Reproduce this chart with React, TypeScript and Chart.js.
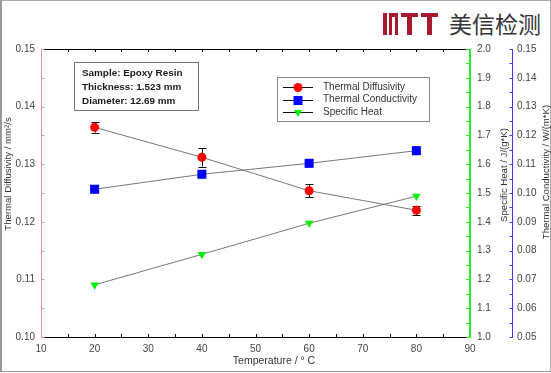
import React, { useEffect, useRef } from "react";
import { Chart, registerables } from "chart.js";

Chart.register(...registerables);

// ---- data ----
const temperatures = [20, 40, 60, 80];
const diffusivity = [0.1364, 0.1312, 0.1254, 0.122];
const diffusivityErr = [0.0009, 0.0016, 0.0011, 0.0008];
const conductivity = [0.1013, 0.1065, 0.1103, 0.1147];
const specificHeat = [1.181, 1.287, 1.395, 1.489];

const seriesLabels = ["Thermal Diffusivity", "Thermal Conductivity", "Specific Heat"];
const annotationLines = ["Sample: Epoxy Resin", "Thickness: 1.523 mm", "Diameter: 12.69 mm"];
const xTitle = "Temperature / \u00B0 C";
const yLeftTitle = "Thermal Diffusivity / mm\u00B2/s";
const yHeatTitle = "Specific Heat / J/(g*K)";
const yCondTitle = "Thermal Conductivity / W/(m*K)";

const FONT = '"Liberation Sans", Arial, sans-serif';
const PINK = "#ff8c8c";
const GREEN = "#22ee22";
const BLUE = "#3a3aff";

function drawMarker(ctx: CanvasRenderingContext2D, kind: string, x: number, y: number, color: string) {
  ctx.save();
  ctx.fillStyle = color;
  ctx.beginPath();
  if (kind === "circle") {
    ctx.arc(x, y, 4.5, 0, Math.PI * 2);
  } else if (kind === "rect") {
    ctx.rect(x - 4.5, y - 4.5, 9, 9);
  } else {
    ctx.moveTo(x - 4, y - 2.5);
    ctx.lineTo(x + 4, y - 2.5);
    ctx.lineTo(x, y + 4.5);
    ctx.closePath();
  }
  ctx.fill();
  ctx.restore();
}

const decorPlugin = {
  id: "decor",
  beforeDatasetsDraw(chart: any) {
    const ctx: CanvasRenderingContext2D = chart.ctx;
    const xs = chart.scales.x;
    const ys = chart.scales.y;
    ctx.save();
    ctx.strokeStyle = "#111";
    ctx.lineWidth = 1;
    temperatures.forEach((t, i) => {
      const x = Math.round(xs.getPixelForValue(t)) + 0.5;
      const yt = ys.getPixelForValue(diffusivity[i] + diffusivityErr[i]);
      const yb = ys.getPixelForValue(diffusivity[i] - diffusivityErr[i]);
      ctx.beginPath();
      ctx.moveTo(x, yt);
      ctx.lineTo(x, yb);
      ctx.moveTo(x - 4, Math.round(yt) + 0.5);
      ctx.lineTo(x + 4, Math.round(yt) + 0.5);
      ctx.moveTo(x - 4, Math.round(yb) + 0.5);
      ctx.lineTo(x + 4, Math.round(yb) + 0.5);
      ctx.stroke();
    });
    ctx.restore();
  },
  afterDraw(chart: any) {
    const ctx: CanvasRenderingContext2D = chart.ctx;
    const { left, right, top, bottom } = chart.chartArea;
    const xs = chart.scales.x;
    const ys = chart.scales.y;
    const yh = chart.scales.yHeat;
    const yc = chart.scales.yCond;
    const tl = 3;
    ctx.save();
    ctx.lineWidth = 1;

    // top and bottom frame lines
    ctx.strokeStyle = "#000";
    ctx.beginPath();
    ctx.moveTo(left, Math.round(top) + 0.5);
    ctx.lineTo(right, Math.round(top) + 0.5);
    ctx.moveTo(left, Math.round(bottom) + 0.5);
    ctx.lineTo(right, Math.round(bottom) + 0.5);
    for (let v = 10; v <= 90; v += 5) {
      const x = Math.round(xs.getPixelForValue(v)) + 0.5;
      ctx.moveTo(x, bottom);
      ctx.lineTo(x, bottom - tl);
      ctx.moveTo(x, top);
      ctx.lineTo(x, top + tl);
    }
    ctx.stroke();

    // left axis (pink)
    ctx.strokeStyle = PINK;
    ctx.beginPath();
    const lx = Math.round(left) + 0.5;
    ctx.moveTo(lx, top);
    ctx.lineTo(lx, bottom + 1);
    for (let k = 0; k <= 10; k++) {
      const y = Math.round(ys.getPixelForValue(0.1 + k * 0.005)) + 0.5;
      ctx.moveTo(lx, y);
      ctx.lineTo(lx + tl, y);
    }
    ctx.stroke();

    // green axis
    ctx.strokeStyle = GREEN;
    ctx.lineWidth = 2;
    ctx.beginPath();
    const gx = Math.round(right);
    ctx.moveTo(gx, top);
    ctx.lineTo(gx, bottom + 1);
    ctx.stroke();
    ctx.lineWidth = 1;
    ctx.beginPath();
    for (let k = 0; k <= 20; k++) {
      const y = Math.round(yh.getPixelForValue(1 + k * 0.05)) + 0.5;
      ctx.moveTo(gx, y);
      ctx.lineTo(gx - tl - 1, y);
    }
    ctx.stroke();

    // blue axis
    ctx.strokeStyle = BLUE;
    ctx.beginPath();
    const bx = Math.round(yc.left) + 0.5;
    ctx.moveTo(bx, top);
    ctx.lineTo(bx, bottom + 1);
    for (let k = 0; k <= 20; k++) {
      const y = Math.round(yc.getPixelForValue(0.05 + k * 0.005)) + 0.5;
      ctx.moveTo(bx, y);
      ctx.lineTo(bx - tl, y);
    }
    ctx.stroke();

    // axis titles
    ctx.fillStyle = "#333";
    ctx.font = `10.5px ${FONT}`;
    ctx.textAlign = "center";
    ctx.textBaseline = "middle";
    ctx.fillText(xTitle, 274, 361);
    const vtitle = (txt: string, x: number, y: number, size: number) => {
      ctx.save();
      ctx.translate(x, y);
      ctx.rotate(-Math.PI / 2);
      ctx.font = `${size}px ${FONT}`;
      ctx.fillText(txt, 0, 0);
      ctx.restore();
    };
    vtitle(yLeftTitle, 8, 174, 9.6);
    vtitle(yHeatTitle, 504, 175, 9.6);
    vtitle(yCondTitle, 546, 172, 9.6);

    // annotation box
    ctx.fillStyle = "#fff";
    ctx.fillRect(74, 62, 124, 48);
    ctx.strokeStyle = "#777";
    ctx.strokeRect(74.5, 62.5, 124, 48);
    ctx.fillStyle = "#1a1a1a";
    ctx.font = `bold 9.9px ${FONT}`;
    ctx.textAlign = "left";
    annotationLines.forEach((s, i) => ctx.fillText(s, 82, 73 + i * 14));

    // legend
    ctx.fillStyle = "#fff";
    ctx.fillRect(277, 77, 152, 44);
    ctx.strokeStyle = "#888";
    ctx.strokeRect(277.5, 77.5, 152, 44);
    const markers = ["circle", "rect", "tri"];
    const colors = ["#ff0000", "#0000ff", "#00ee00"];
    ctx.font = `10px ${FONT}`;
    seriesLabels.forEach((s, i) => {
      const y = 87 + i * 12.5;
      ctx.strokeStyle = "#111";
      ctx.beginPath();
      ctx.moveTo(283, Math.round(y) + 0.5);
      ctx.lineTo(313, Math.round(y) + 0.5);
      ctx.stroke();
      drawMarker(ctx, markers[i], 298, Math.round(y) + 0.5, colors[i]);
      ctx.fillStyle = "#333";
      ctx.fillText(s, 323, y);
    });
    ctx.restore();
  },
};

export default function App() {
  const ref = useRef<HTMLCanvasElement | null>(null);

  useEffect(() => {
    if (!ref.current) return;
    const tickFont = { family: FONT, size: 10 };
    const noGrid = { display: false, drawTicks: false };
    const chart = new Chart(ref.current, {
      type: "line",
      data: {
        datasets: [
          {
            label: seriesLabels[0],
            data: temperatures.map((t, i) => ({ x: t, y: diffusivity[i] })),
            yAxisID: "y",
            borderColor: "#777",
            borderWidth: 1,
            pointStyle: "circle",
            pointRadius: 4.5,
            pointBackgroundColor: "#ff0000",
            pointBorderColor: "#ff0000",
            pointBorderWidth: 0,
          },
          {
            label: seriesLabels[1],
            data: temperatures.map((t, i) => ({ x: t, y: conductivity[i] })),
            yAxisID: "yCond",
            borderColor: "#777",
            borderWidth: 1,
            pointStyle: "rect",
            pointRadius: 6.4,
            pointBackgroundColor: "#0000ff",
            pointBorderColor: "#0000ff",
            pointBorderWidth: 0,
          },
          {
            label: seriesLabels[2],
            data: temperatures.map((t, i) => ({ x: t, y: specificHeat[i] })),
            yAxisID: "yHeat",
            borderColor: "#777",
            borderWidth: 1,
            pointStyle: "triangle",
            pointRotation: 180,
            pointRadius: 4.8,
            pointBackgroundColor: "#00ee00",
            pointBorderColor: "#00ee00",
            pointBorderWidth: 0,
          },
        ],
      },
      options: {
        animation: false,
        responsive: false,
        events: [],
        layout: { padding: { top: 49, left: 0, right: 0, bottom: 0 } },
        plugins: { legend: { display: false }, tooltip: { enabled: false } },
        scales: {
          x: {
            type: "linear",
            min: 10,
            max: 90,
            grid: noGrid,
            border: { display: false },
            ticks: { stepSize: 10, font: tickFont, color: "#444", padding: 6, maxRotation: 0 },
            afterFit: (s: any) => { s.height = 36; },
          },
          y: {
            type: "linear",
            position: "left",
            min: 0.1,
            max: 0.15,
            grid: noGrid,
            border: { display: false },
            ticks: {
              stepSize: 0.01, font: tickFont, color: "#444", padding: 6,
              callback: (v: any) => Number(v).toFixed(2),
            },
            afterFit: (s: any) => { s.width = 41; },
          },
          yHeat: {
            type: "linear",
            position: "right",
            min: 1,
            max: 2,
            grid: noGrid,
            border: { display: false },
            ticks: {
              stepSize: 0.1, font: tickFont, color: "#444", padding: 7,
              callback: (v: any) => Number(v).toFixed(1),
            },
            afterFit: (s: any) => { s.width = 42; },
          },
          yCond: {
            type: "linear",
            position: "right",
            min: 0.05,
            max: 0.15,
            grid: noGrid,
            border: { display: false },
            ticks: {
              stepSize: 0.01, font: tickFont, color: "#444", padding: 5,
              callback: (v: any) => Number(v).toFixed(2),
            },
            afterFit: (s: any) => { s.width = 39; },
          },
        },
      } as any,
      plugins: [decorPlugin],
    });
    return () => chart.destroy();
  }, []);

  const red = "#a6192e";
  const bar = (l: number, t: number, w: number, h: number) => (
    <div style={{ position: "absolute", left: l, top: t, width: w, height: h, background: red }} />
  );

  return (
    <div style={{ position: "fixed", left: 0, top: 0, width: 551, height: 373, background: "#fff" }}>
      <div
        style={{
          position: "absolute", left: 0, top: 0, width: 548, height: 370,
          borderTop: "1px solid #aaa", borderRight: "1px solid #aaa",
          borderBottom: "1px solid #999", borderLeft: "2px solid #999",
        }}
      />
      {/* logo */}
      {bar(383, 13, 4, 22)}
      {bar(389, 13, 9, 4)}
      {bar(389, 13, 3, 22)}
      {bar(395, 13, 3, 22)}
      {bar(401, 13, 17, 4)}
      {bar(407, 13, 5, 22)}
      {bar(421, 13, 17, 4)}
      {bar(427, 13, 5, 22)}
      <div
        style={{
          position: "absolute", left: 449, top: 12, fontSize: 23, lineHeight: "23px",
          fontFamily: '"Noto Sans CJK SC", sans-serif', color: "#333", whiteSpace: "nowrap",
        }}
      >
        美信检测
      </div>
      <canvas ref={ref} width={551} height={373} style={{ position: "absolute", left: 0, top: 0, width: 551, height: 373 }} />
    </div>
  );
}
